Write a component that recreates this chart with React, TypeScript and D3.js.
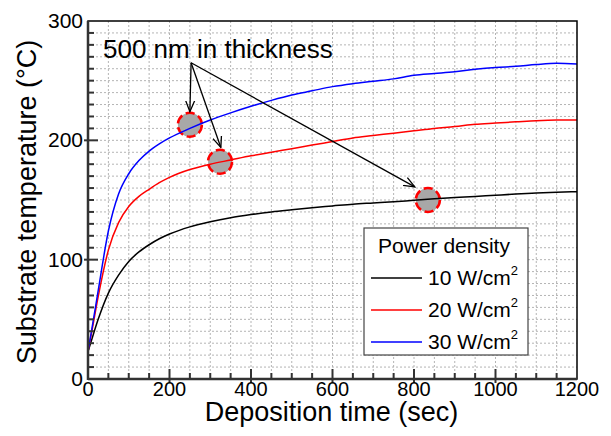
import React, { useEffect, useRef } from 'react';
import * as d3 from 'd3';

// deposition time (sec)
const times = [0, 10, 25, 50, 75, 100, 125, 150, 175, 200, 250, 300, 350, 400, 450, 500, 550, 600, 650, 700, 750, 800, 850, 900, 950, 1000, 1050, 1100, 1150, 1200];

// substrate temperature (°C)
const temp10 = [23, 34, 50, 72, 87, 98.5, 106.5, 112.5, 117.5, 121.5, 127.5, 131.8, 135.2, 137.8, 140, 141.8, 143.5, 145, 146.5, 147.5, 148.5, 149.8, 151, 152, 153, 154, 155, 155.8, 156.5, 157];
const temp20 = [23, 41, 69, 108, 131, 144.5, 153, 159, 164.5, 169, 175.5, 180, 183.5, 187, 190, 193, 196, 199, 202, 204, 206, 208, 210, 211.5, 213.5, 214.5, 215.5, 216.5, 217, 217];
const temp30 = [23, 43, 74, 124, 155, 172, 183, 191, 197, 202, 210, 217, 223, 228.5, 233.5, 238, 241.5, 245, 247.5, 249.5, 251.5, 254.5, 256, 257.5, 259.5, 261, 262, 263.5, 264.5, 264];

const seriesNames = ['10 W/cm', '20 W/cm', '30 W/cm'];
const seriesColors = ['#000000', '#ff0000', '#0000ff'];

const xTicks = [0, 200, 400, 600, 800, 1000, 1200];
const yTicks = [0, 100, 200, 300];

// 500 nm thickness points and the arrow from the label
const markPoints = [[250, 213], [324, 182], [834, 150]];
const arrowFrom = [253, 265];
const arrowTips = [[250, 224], [326, 194], [802, 161]];

const FONT = '"Liberation Sans", Arial, sans-serif';

const App = () => {
  const svgRef = useRef(null);

  useEffect(() => {
    const w = 611;
    const h = 436;
    const left = 88, right = 577, top = 21, bottom = 379;

    const xScale = d3.scaleLinear().domain([0, 1200]).range([left, right]);
    const yScale = d3.scaleLinear().domain([0, 300]).range([bottom, top]);

    const svg = d3.select(svgRef.current)
      .attr('width', w)
      .attr('height', h);
    svg.selectAll('*').remove();

    svg.append('rect').attr('width', w).attr('height', h).attr('fill', '#fff');

    // grid
    const grid = svg.append('g');
    grid.selectAll('line.gx')
      .data(d3.range(50, 1200, 50))
      .enter()
      .append('line')
      .attr('x1', (d) => xScale(d)).attr('x2', (d) => xScale(d))
      .attr('y1', top).attr('y2', bottom)
      .attr('stroke', '#b4b4b4').attr('stroke-dasharray', '2,2');
    grid.selectAll('line.gy')
      .data(d3.range(10, 300, 10))
      .enter()
      .append('line')
      .attr('y1', (d) => yScale(d)).attr('y2', (d) => yScale(d))
      .attr('x1', left).attr('x2', right)
      .attr('stroke', '#b4b4b4').attr('stroke-dasharray', '2,2');

    // marked circles
    svg.selectAll('circle')
      .data(markPoints)
      .enter()
      .append('circle')
      .attr('cx', (d) => xScale(d[0]))
      .attr('cy', (d) => yScale(d[1]))
      .attr('r', 12)
      .attr('fill', '#a8a8a8')
      .attr('stroke', '#ff0000')
      .attr('stroke-width', 2.5)
      .attr('stroke-dasharray', '9,4');

    // curves
    const line = d3.line()
      .x((d) => xScale(d[0]))
      .y((d) => yScale(d[1]))
      .curve(d3.curveMonotoneX);
    [temp10, temp20, temp30].forEach((vals, i) => {
      svg.append('path')
        .datum(times.map((t, j) => [t, vals[j]]))
        .attr('d', line)
        .attr('fill', 'none')
        .attr('stroke', seriesColors[i])
        .attr('stroke-width', 1.5);
    });

    // arrows
    const defs = svg.append('defs');
    defs.append('marker')
      .attr('id', 'arrow')
      .attr('viewBox', '0 0 12 12')
      .attr('refX', 11).attr('refY', 6)
      .attr('markerWidth', 12).attr('markerHeight', 12)
      .attr('markerUnits', 'userSpaceOnUse')
      .attr('orient', 'auto')
      .append('path')
      .attr('d', 'M0,1.5 L11,6 L0,10.5')
      .attr('fill', 'none')
      .attr('stroke', '#000')
      .attr('stroke-width', 1.3);
    svg.selectAll('line.arrow')
      .data(arrowTips)
      .enter()
      .append('line')
      .attr('x1', xScale(arrowFrom[0])).attr('y1', yScale(arrowFrom[1]))
      .attr('x2', (d) => xScale(d[0])).attr('y2', (d) => yScale(d[1]))
      .attr('stroke', '#000').attr('stroke-width', 1.3)
      .attr('marker-end', 'url(#arrow)');

    svg.append('text')
      .attr('x', 103).attr('y', 58)
      .attr('font-family', FONT).attr('font-size', 26)
      .text('500 nm in thickness');

    // frame
    svg.append('rect')
      .attr('x', left).attr('y', top)
      .attr('width', right - left).attr('height', bottom - top)
      .attr('fill', 'none').attr('stroke', '#000').attr('stroke-width', 1.5);
    svg.append('line')
      .attr('x1', left).attr('x2', left).attr('y1', top).attr('y2', bottom + 1)
      .attr('stroke', '#333').attr('stroke-width', 2.5);
    svg.append('line')
      .attr('x1', left).attr('x2', right).attr('y1', bottom).attr('y2', bottom)
      .attr('stroke', '#333').attr('stroke-width', 2.5);

    // ticks
    svg.selectAll('line.ty')
      .data(d3.range(10, 300, 10))
      .enter()
      .append('line')
      .attr('x1', (d) => (d % 100 === 0 ? left - 4 : left))
      .attr('x2', (d) => (d % 100 === 0 ? left + 10 : left + 6))
      .attr('y1', (d) => yScale(d)).attr('y2', (d) => yScale(d))
      .attr('stroke', '#333').attr('stroke-width', 2);
    svg.selectAll('line.tx')
      .data(d3.range(50, 1200, 50))
      .enter()
      .append('line')
      .attr('y1', (d) => (d % 200 === 0 ? bottom + 4 : bottom))
      .attr('y2', (d) => (d % 200 === 0 ? bottom - 10 : bottom - 6))
      .attr('x1', (d) => xScale(d)).attr('x2', (d) => xScale(d))
      .attr('stroke', '#333').attr('stroke-width', 2);

    svg.selectAll('text.yl')
      .data(yTicks)
      .enter()
      .append('text')
      .attr('x', left - 5)
      .attr('y', (d) => yScale(d) + 7)
      .attr('text-anchor', 'end')
      .attr('font-family', FONT).attr('font-size', 21)
      .text((d) => d);
    svg.selectAll('text.xl')
      .data(xTicks)
      .enter()
      .append('text')
      .attr('x', (d) => xScale(d))
      .attr('y', bottom + 17)
      .attr('text-anchor', 'middle')
      .attr('font-family', FONT).attr('font-size', 20)
      .text((d) => d);

    svg.append('text')
      .attr('x', (left + right) / 2 - 1).attr('y', 421)
      .attr('text-anchor', 'middle')
      .attr('font-family', FONT).attr('font-size', 27)
      .text('Deposition time (sec)');
    svg.append('text')
      .attr('transform', 'translate(36,202) rotate(-90)')
      .attr('text-anchor', 'middle')
      .attr('font-family', FONT).attr('font-size', 27)
      .text('Substrate temperature (°C)');

    // legend
    const lg = svg.append('g');
    lg.append('rect')
      .attr('x', 364).attr('y', 228).attr('width', 164).attr('height', 127)
      .attr('fill', '#fff').attr('stroke', '#444').attr('stroke-width', 1.2);
    lg.append('text')
      .attr('x', 444).attr('y', 253)
      .attr('text-anchor', 'middle')
      .attr('font-family', FONT).attr('font-size', 21)
      .text('Power density');
    seriesNames.forEach((name, i) => {
      const yy = 285 + i * 32;
      lg.append('line')
        .attr('x1', 371).attr('x2', 422)
        .attr('y1', yy - 7).attr('y2', yy - 7)
        .attr('stroke', seriesColors[i]).attr('stroke-width', 1.5);
      const t = lg.append('text')
        .attr('x', 428).attr('y', yy)
        .attr('font-family', FONT).attr('font-size', 21);
      t.append('tspan').text(name);
      t.append('tspan').attr('font-size', 13).attr('dy', -10).text('2');
    });
  }, []);

  return (
    <svg ref={svgRef} style={{ position: 'absolute', left: 0, top: 0 }}></svg>
  );
};

export default App;
